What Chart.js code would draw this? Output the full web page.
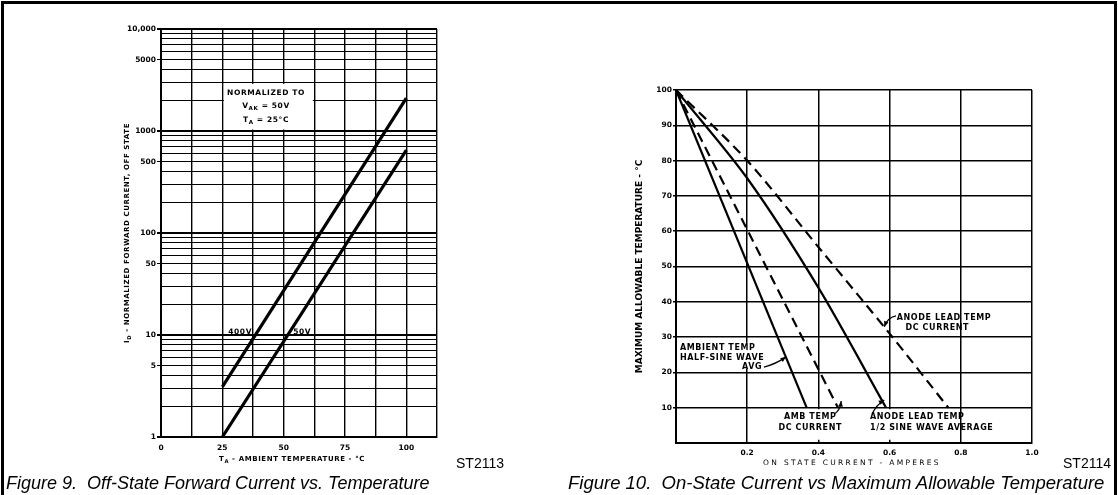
<!DOCTYPE html>
<html>
<head>
<meta charset="utf-8">
<script src="https://cdn.jsdelivr.net/npm/chart.js@4.4.1/dist/chart.umd.min.js"></script>
<style>
  html, body { margin: 0; padding: 0; background: #fff; }
  #page { position: relative; width: 1118px; height: 495px; overflow: hidden; }
  #frame { position: absolute; left: 1px; top: 1px; width: 1110px; height: 520px; border: 3px solid #000; border-bottom: none; }
  canvas { position: absolute; top: 0; }
  #fig9 { left: 0; }
  #fig10 { left: 560px; }
  .cap { position: absolute; top: 473px; font-family: "Liberation Sans", Arial, sans-serif; font-style: italic; font-size: 18px; line-height: 20px; white-space: nowrap; color: #000; }
  .code { position: absolute; top: 455px; font-family: "Liberation Sans", Arial, sans-serif; font-size: 14px; line-height: 16px; color: #000; }
</style>
</head>
<body>
<div id="page">
  <div id="frame"></div>
  <canvas id="fig9" width="560" height="495"></canvas>
  <canvas id="fig10" width="558" height="495"></canvas>
  <div class="code" style="left:456px">ST2113</div>
  <div class="cap" style="left:6px">Figure 9.&nbsp; Off-State Forward Current vs. Temperature</div>
  <div class="code" style="left:1063px">ST2114</div>
  <div class="cap" style="left:568px;font-size:18.5px">Figure 10.&nbsp; On-State Current vs Maximum Allowable Temperature</div>
</div>
<script>
// ---- Figure 9 data (off-state current vs temperature) ----
const tempLabels = [0, 25, 50, 75, 100];
const currentLabels = [1, 5, 10, 50, 100, 500, 1000, 5000, 10000];
const temp400V = [25, 100];
const current400V = [3.1, 2100];
const temp50V = [25, 100];
const current50V = [1, 650];

// ---- Figure 10 data (on-state current vs max temperature) ----
const ampLabels = [0.2, 0.4, 0.6, 0.8, 1.0];
const degLabels = [10, 20, 30, 40, 50, 60, 70, 80, 90, 100];
const ambSineAmps = [0, 0.367];
const ambSineTemp = [100, 10];
const ambDcAmps = [0, 0.455];
const ambDcTemp = [100, 10];
const leadSineAmps = [0, 0.2, 0.4, 0.59];
const leadSineTemp = [100, 75, 44, 10];
const leadDcAmps = [0, 0.2, 0.4, 0.6, 0.765];
const leadDcTemp = [100, 80, 55.5, 31, 10];

const FONT = 'DejaVu Sans';
const tickFont = { family: FONT, size: 7.5, weight: 'bold' };

function pts(xs, ys) { return xs.map((v, i) => ({ x: v, y: ys[i] })); }

// draws "V_{AK} = 50V" style text with subscripts
function drawSegs(ctx, text, x, y, align, size, weight) {
  const parts = text.split(/_\{([^}]*)\}/);
  const w8 = weight || 'bold';
  const base = w8 + ' ' + size + 'px "' + FONT + '"';
  const sub = w8 + ' ' + (size * 0.75) + 'px "' + FONT + '"';
  let w = 0;
  parts.forEach((p, i) => { ctx.font = i % 2 ? sub : base; w += ctx.measureText(p).width; });
  let cx = align === 'center' ? x - w / 2 : align === 'right' ? x - w : x;
  ctx.textAlign = 'left';
  ctx.textBaseline = 'middle';
  parts.forEach((p, i) => {
    ctx.font = i % 2 ? sub : base;
    ctx.fillText(p, cx, i % 2 ? y + size * 0.35 : y);
    cx += ctx.measureText(p).width;
  });
}

const notesPlugin = {
  id: 'notes',
  beforeDatasetsDraw(chart, args, opts) {
    const { ctx, scales: { x, y } } = chart;
    ctx.save();
    ctx.fillStyle = '#fff';
    (opts.boxes || []).forEach(b => {
      const x0 = x.getPixelForValue(b[0]), x1 = x.getPixelForValue(b[2]);
      const y0 = y.getPixelForValue(b[1]), y1 = y.getPixelForValue(b[3]);
      ctx.fillRect(Math.min(x0, x1) + 1.5, Math.min(y0, y1) + 1.5, Math.abs(x1 - x0) - 3, Math.abs(y1 - y0) - 3);
    });
    ctx.restore();
  },
  afterDatasetsDraw(chart, args, opts) {
    const { ctx, chartArea: ca, scales: { x, y } } = chart;
    ctx.save();
    ctx.fillStyle = '#000';
    ctx.strokeStyle = '#000';
    ctx.letterSpacing = '0.6px';
    (opts.texts || []).forEach(t => {
      drawSegs(ctx, t.text, x.getPixelForValue(t.at[0]), y.getPixelForValue(t.at[1]), t.align, t.size || 7.5);
    });
    (opts.arrows || []).forEach(a => {
      const p0 = [x.getPixelForValue(a[0][0]), y.getPixelForValue(a[0][1])];
      const pc = [x.getPixelForValue(a[1][0]), y.getPixelForValue(a[1][1])];
      const p1 = [x.getPixelForValue(a[2][0]), y.getPixelForValue(a[2][1])];
      ctx.lineWidth = 1.3;
      ctx.beginPath();
      ctx.moveTo(p0[0], p0[1]);
      ctx.quadraticCurveTo(pc[0], pc[1], p1[0], p1[1]);
      ctx.stroke();
      const ang = Math.atan2(p1[1] - pc[1], p1[0] - pc[0]);
      ctx.beginPath();
      ctx.moveTo(p1[0], p1[1]);
      ctx.lineTo(p1[0] - 6 * Math.cos(ang - 0.4), p1[1] - 6 * Math.sin(ang - 0.4));
      ctx.lineTo(p1[0] - 6 * Math.cos(ang + 0.4), p1[1] - 6 * Math.sin(ang + 0.4));
      ctx.closePath();
      ctx.fill();
    });
    (opts.titles || []).forEach(t => {
      const [tx, ty] = t.pos(ca);
      ctx.save();
      ctx.letterSpacing = t.spacing || '0.6px';
      ctx.translate(tx, ty);
      ctx.rotate(t.rot || 0);
      drawSegs(ctx, t.text, 0, 0, 'center', t.size || 7, t.weight);
      ctx.restore();
    });
    ctx.restore();
  }
};

// ---------------- Figure 9 ----------------
const logGrid = [];
for (let d = 1; d < 10000; d *= 10) {
  for (let m = 1; m < 10; m++) logGrid.push(m * d);
}
logGrid.push(10000);

new Chart(document.getElementById('fig9'), {
  type: 'line',
  data: {
    datasets: [
      { label: '400V', data: pts(temp400V, current400V), borderColor: '#000', borderWidth: 3.2, pointRadius: 0 },
      { label: '50V', data: pts(temp50V, current50V), borderColor: '#000', borderWidth: 3.2, pointRadius: 0 }
    ]
  },
  options: {
    responsive: false,
    animation: false,
    events: [],
    layout: { padding: { left: 0, top: 29, right: 123, bottom: 0 } },
    plugins: {
      legend: { display: false },
      tooltip: { enabled: false },
      notes: {
        boxes: [[25, 1000, 62.5, 3000]],
        texts: [
          { text: 'NORMALIZED TO', at: [42.8, 2360], align: 'center' },
          { text: 'V_{AK} = 50V', at: [42.8, 1760], align: 'center' },
          { text: 'T_{A} = 25°C', at: [42.8, 1280], align: 'center' },
          { text: '400V', at: [27.4, 10.8], align: 'left' },
          { text: '50V', at: [53.9, 10.8], align: 'left' }
        ],
        titles: [
          { text: 'I_{D} - NORMALIZED FORWARD CURRENT, OFF STATE', rot: -Math.PI / 2, pos: ca => [ca.left - 34, (ca.top + ca.bottom) / 2] },
          { text: 'T_{A} - AMBIENT TEMPERATURE - °C', pos: ca => [ca.left + 131, ca.bottom + 22] }
        ]
      }
    },
    scales: {
      x: {
        type: 'linear',
        min: 0,
        max: 112.5,
        afterFit: s => { s.height = 58; },
        ticks: {
          stepSize: 12.5,
          autoSkip: false,
          maxRotation: 0,
          padding: 7,
          color: '#000',
          font: tickFont,
          callback: v => tempLabels.includes(v) ? String(v) : ''
        },
        grid: { color: '#000', lineWidth: 1.4, drawTicks: false },
        border: { color: '#000', width: 2 }
      },
      y: {
        type: 'logarithmic',
        min: 1,
        max: 10000,
        afterFit: s => { s.width = 161; },
        afterBuildTicks: s => { s.ticks = logGrid.map(v => ({ value: v })); },
        ticks: {
          autoSkip: false,
          padding: 1,
          color: '#000',
          font: tickFont,
          callback: v => currentLabels.includes(v) ? (v === 10000 ? '10,000' : String(v)) : ''
        },
        grid: {
          color: '#000',
          lineWidth: c => [1, 10, 100, 1000, 10000].includes(c.tick && c.tick.value) ? 2 : 1,
          tickLength: 4,
          tickColor: c => currentLabels.includes(c.tick && c.tick.value) ? '#000' : 'rgba(0,0,0,0)'
        },
        border: { color: '#000', width: 2 }
      }
    }
  },
  plugins: [notesPlugin]
});

// ---------------- Figure 10 ----------------
new Chart(document.getElementById('fig10'), {
  type: 'line',
  data: {
    datasets: [
      { label: 'Ambient temp half-sine wave avg', data: pts(ambSineAmps, ambSineTemp), borderColor: '#000', borderWidth: 2.2, pointRadius: 0 },
      { label: 'Amb temp DC current', data: pts(ambDcAmps, ambDcTemp), borderColor: '#000', borderWidth: 2.2, borderDash: [10, 6], pointRadius: 0 },
      { label: 'Anode lead temp 1/2 sine wave average', data: pts(leadSineAmps, leadSineTemp), borderColor: '#000', borderWidth: 2.2, pointRadius: 0, tension: 0.3 },
      { label: 'Anode lead temp DC current', data: pts(leadDcAmps, leadDcTemp), borderColor: '#000', borderWidth: 2.2, borderDash: [10, 6], pointRadius: 0, tension: 0.3 }
    ]
  },
  options: {
    responsive: false,
    animation: false,
    events: [],
    layout: { padding: { left: 0, top: 90, right: 86, bottom: 0 } },
    plugins: {
      legend: { display: false },
      tooltip: { enabled: false },
      notes: {
        boxes: [[0.005, 20.6, 0.25, 28.8], [0.29, 0.5, 0.47, 10], [0.53, 0.5, 0.79, 10]],
        texts: [
          { text: 'AMBIENT TEMP', at: [0.011, 26.9], align: 'left', size: 8 },
          { text: 'HALF-SINE WAVE', at: [0.011, 24.1], align: 'left', size: 8 },
          { text: 'AVG', at: [0.242, 21.5], align: 'right', size: 8 },
          { text: 'AMB TEMP', at: [0.377, 7.4], align: 'center', size: 8 },
          { text: 'DC CURRENT', at: [0.377, 4.2], align: 'center', size: 8 },
          { text: 'ANODE LEAD TEMP', at: [0.545, 7.4], align: 'left', size: 8 },
          { text: '1/2 SINE WAVE AVERAGE', at: [0.545, 4.2], align: 'left', size: 8 },
          { text: 'ANODE LEAD TEMP', at: [0.62, 35.4], align: 'left', size: 8 },
          { text: 'DC CURRENT', at: [0.734, 32.6], align: 'center', size: 8 }
        ],
        arrows: [
          [[0.247, 21.5], [0.281, 22.4], [0.309, 24.4]],
          [[0.444, 8.2], [0.461, 9.1], [0.464, 11.9]],
          [[0.551, 8.2], [0.562, 10.8], [0.585, 12.2]],
          [[0.618, 36], [0.596, 35.7], [0.585, 32.9]]
        ],
        titles: [
          { text: 'ON STATE CURRENT - AMPERES', pos: ca => [ca.left + 176, ca.bottom + 20], size: 7.5, weight: 'normal', spacing: '2.3px' }
        ]
      }
    },
    scales: {
      x: {
        type: 'linear',
        min: 0,
        max: 1,
        afterFit: s => { s.height = 52; },
        ticks: {
          stepSize: 0.2,
          autoSkip: false,
          maxRotation: 0,
          padding: 6,
          color: '#000',
          font: tickFont,
          callback: v => ampLabels.some(a => Math.abs(a - v) < 1e-6) ? v.toFixed(1) : ''
        },
        grid: { color: '#000', lineWidth: 1.5, drawTicks: false },
        border: { color: '#000', width: 2 }
      },
      y: {
        type: 'linear',
        min: 0,
        max: 100,
        afterFit: s => { s.width = 116; },
        ticks: {
          stepSize: 10,
          autoSkip: false,
          padding: 1,
          color: '#000',
          font: tickFont,
          callback: v => degLabels.includes(v) ? String(v) : ''
        },
        grid: {
          color: '#000',
          lineWidth: 1.5,
          tickLength: 3,
          tickColor: c => degLabels.includes(c.tick && c.tick.value) ? '#000' : 'rgba(0,0,0,0)'
        },
        border: { color: '#000', width: 2 },
        title: {
          display: true,
          text: 'MAXIMUM ALLOWABLE TEMPERATURE - °C',
          color: '#000',
          font: { family: FONT, size: 9, weight: 'bold' },
          padding: { top: 74, bottom: 0 }
        }
      }
    }
  },
  plugins: [notesPlugin]
});
</script>
</body>
</html>
